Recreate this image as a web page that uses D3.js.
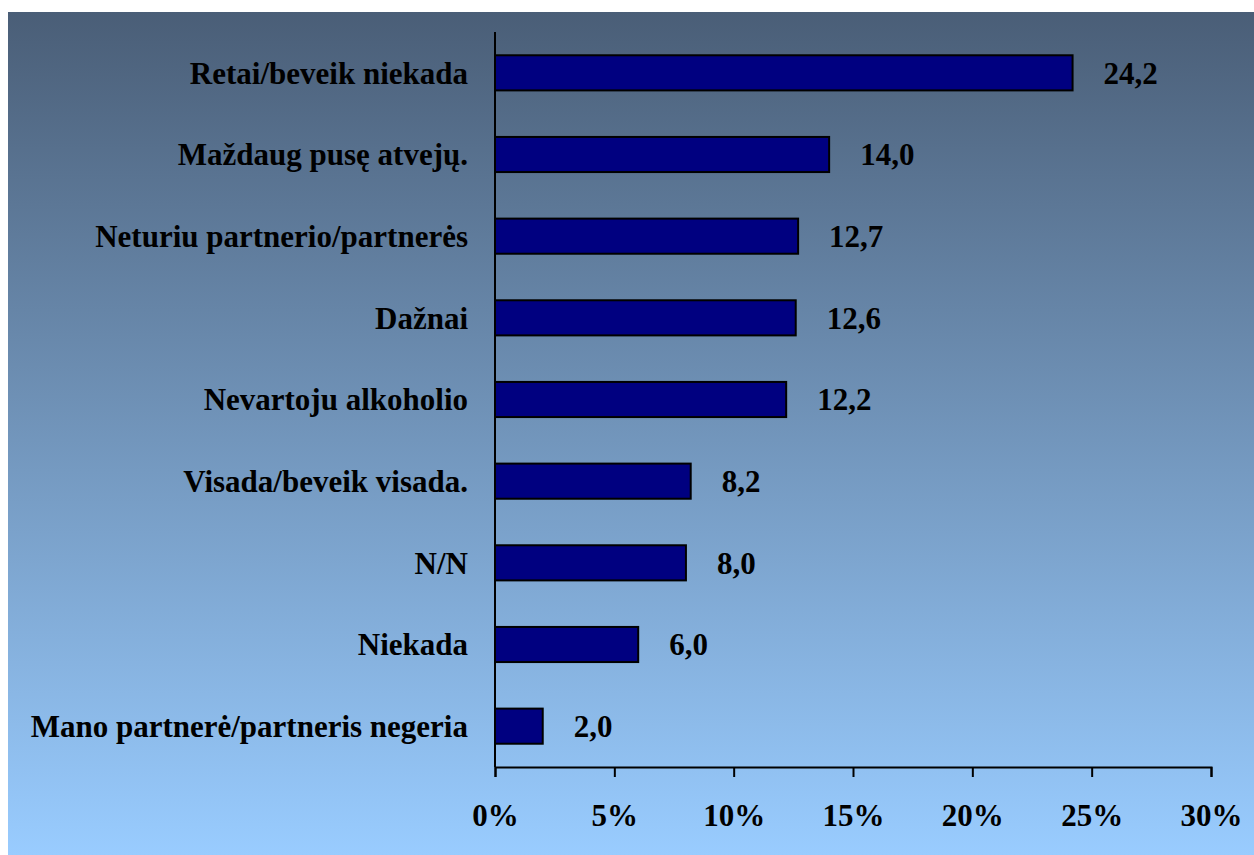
<!DOCTYPE html>
<html>
<head>
<meta charset="utf-8">
<script src="https://d3js.org/d3.v7.min.js"></script>
<style>
html, body { margin: 0; padding: 0; background: #fff; }
svg { display: block; }
svg text { font-family: "Liberation Serif", "Times New Roman", serif; font-weight: bold; fill: #000; }
</style>
</head>
<body>
<div id="root"></div>
<script>
let categories = [
    'Retai/beveik niekada',
    'Maždaug pusę atvejų.',
    'Neturiu partnerio/partnerės',
    'Dažnai',
    'Nevartoju alkoholio',
    'Visada/beveik visada.',
    'N/N',
    'Niekada',
    'Mano partnerė/partneris negeria'
];
let values = [24.2, 14.0, 12.7, 12.6, 12.2, 8.2, 8.0, 6.0, 2.0];
let x_ticks = [0, 5, 10, 15, 20, 25, 30];

let width = 1254;
let height = 855;
let plot = { left: 495, right: 1211, top: 32, bottom: 767 };
let font_size = 31;

let svg = d3.select('#root').append('svg')
    .attr('width', width)
    .attr('height', height);

let grad = svg.append('defs').append('linearGradient')
    .attr('id', 'bg')
    .attr('x1', 0).attr('y1', 0).attr('x2', 0).attr('y2', 1);
grad.append('stop').attr('offset', '0%').attr('stop-color', '#4a5e77');
grad.append('stop').attr('offset', '100%').attr('stop-color', '#99ccff');

svg.append('rect')
    .attr('x', 8).attr('y', 12)
    .attr('width', width - 8).attr('height', height - 12)
    .attr('fill', 'url(#bg)');

let x = d3.scaleLinear().domain([0, 30]).range([plot.left, plot.right]);
let y = d3.scaleBand().domain(categories).range([plot.top, plot.bottom]).paddingInner(0.57).paddingOuter(0.285);

let data = categories.map((c, i) => ({ c, v: values[i] }));

svg.append('g')
    .selectAll('rect')
    .data(data)
    .join('rect')
    .attr('x', x(0))
    .attr('y', d => y(d.c))
    .attr('width', d => x(d.v) - x(0))
    .attr('height', y.bandwidth())
    .attr('fill', '#000080')
    .attr('stroke', '#000')
    .attr('stroke-width', 2);

// value labels
svg.append('g')
    .selectAll('text')
    .data(data)
    .join('text')
    .attr('x', d => x(d.v) + 31)
    .attr('y', d => y(d.c) + y.bandwidth() / 2)
    .attr('dy', '0.35em')
    .attr('font-size', font_size)
    .text(d => d3.format('.1f')(d.v).replace('.', ','));

// category labels
svg.append('g')
    .selectAll('text')
    .data(data)
    .join('text')
    .attr('x', plot.left - 27)
    .attr('y', d => y(d.c) + y.bandwidth() / 2)
    .attr('dy', '0.35em')
    .attr('text-anchor', 'end')
    .attr('font-size', font_size)
    .text(d => d.c);

// y axis line
svg.append('line')
    .attr('x1', plot.left).attr('x2', plot.left)
    .attr('y1', plot.top).attr('y2', plot.bottom)
    .attr('stroke', '#000').attr('stroke-width', 2);

// x axis
let x_axis = svg.append('g')
    .attr('transform', `translate(0, ${plot.bottom})`)
    .call(d3.axisBottom(x).tickValues(x_ticks).tickSize(10).tickSizeOuter(10).tickPadding(27).tickFormat(d => d + '%'));
x_axis.select('.domain').attr('stroke', '#000').attr('stroke-width', 2);
x_axis.selectAll('.tick line').attr('stroke', '#000').attr('stroke-width', 2);
x_axis.selectAll('.tick text')
    .attr('font-size', font_size)
    .attr('font-family', '"Liberation Serif", "Times New Roman", serif')
    .attr('font-weight', 'bold')
    .attr('fill', '#000');
</script>
</body>
</html>
